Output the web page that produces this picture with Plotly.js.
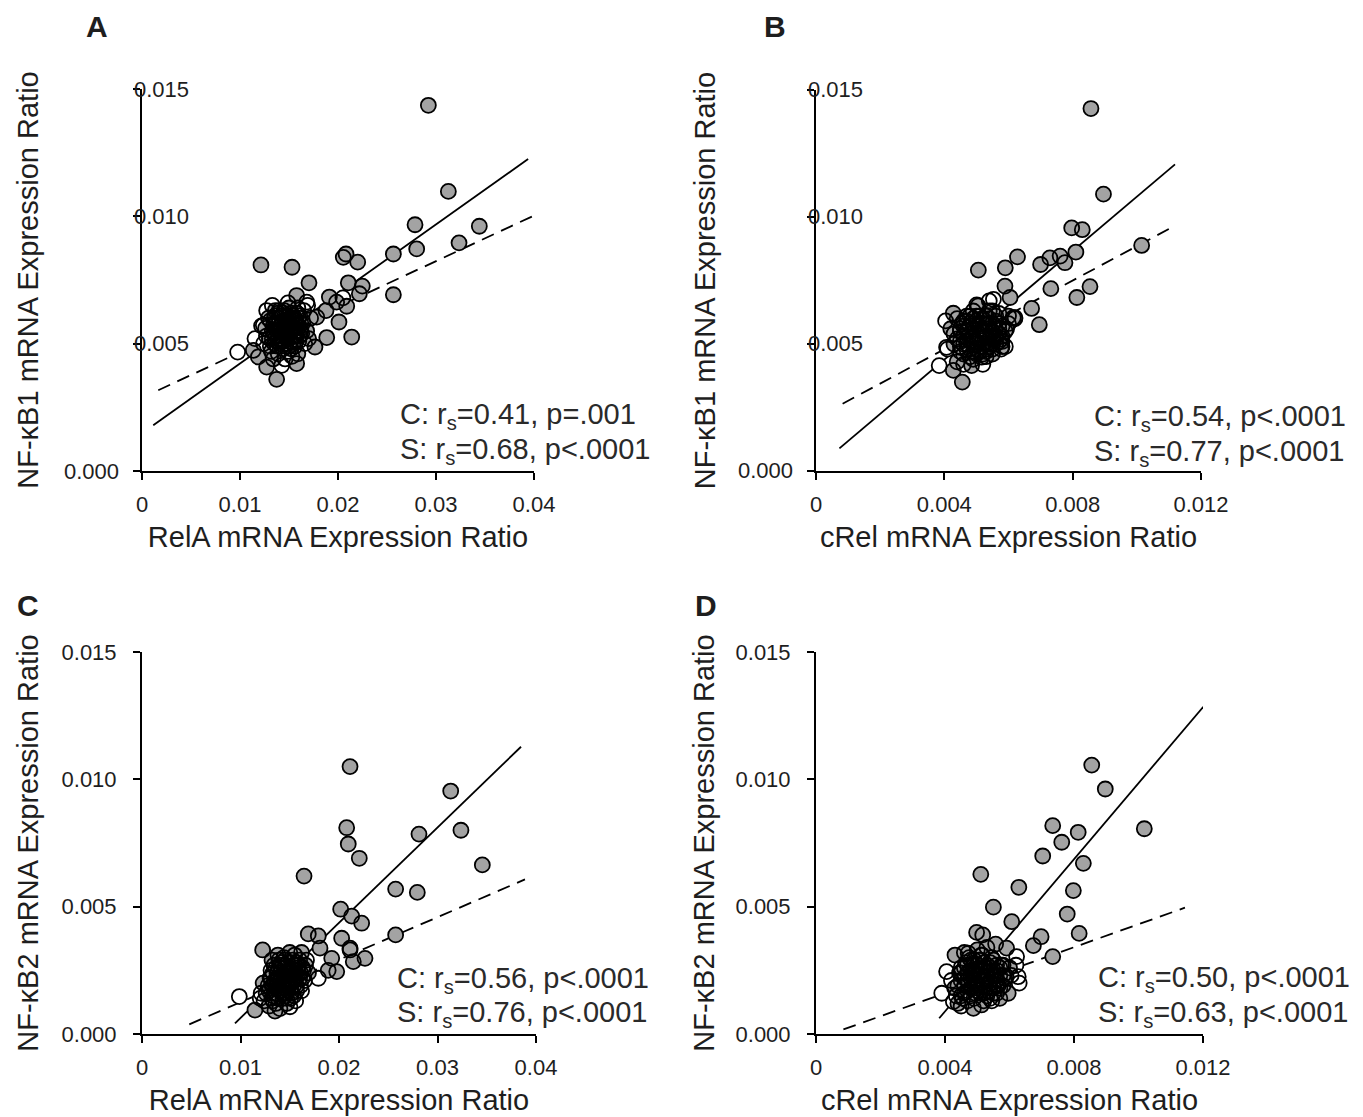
<!DOCTYPE html>
<html>
<head>
<meta charset="utf-8">
<script src="https://cdn.plot.ly/plotly-3.0.1.min.js"></script>
<style>html,body{margin:0;padding:0;background:#fff;}#chart{width:1363px;height:1117px;}</style>
</head>
<body>
<div id="chart"></div>
<script>
// ---------------- DATA ----------------
const panelLetters = ['A', 'B', 'C', 'D'];
const xTitles = ['RelA mRNA Expression Ratio', 'cRel mRNA Expression Ratio', 'RelA mRNA Expression Ratio', 'cRel mRNA Expression Ratio'];
const yTitles = ['NF-κB1 mRNA Expression Ratio', 'NF-κB1 mRNA Expression Ratio', 'NF-κB2 mRNA Expression Ratio', 'NF-κB2 mRNA Expression Ratio'];

const relaTickVals = [0, 0.01, 0.02, 0.03, 0.04];
const relaTickText = ['0', '0.01', '0.02', '0.03', '0.04'];
const crelTickVals = [0, 0.004, 0.008, 0.012];
const crelTickText = ['0', '0.004', '0.008', '0.012'];
const yTickVals = [0, 0.005, 0.010, 0.015];
const yTickText = ['0.000', '0.005', '0.010', '0.015'];

const statsC = ['C: r<sub>s</sub>=0.41, p=.001', 'C: r<sub>s</sub>=0.54, p&lt;.0001', 'C: r<sub>s</sub>=0.56, p&lt;.0001', 'C: r<sub>s</sub>=0.50, p&lt;.0001'];
const statsS = ['S: r<sub>s</sub>=0.68, p&lt;.0001', 'S: r<sub>s</sub>=0.77, p&lt;.0001', 'S: r<sub>s</sub>=0.76, p&lt;.0001', 'S: r<sub>s</sub>=0.63, p&lt;.0001'];

// regression line end points
const fitA_S = [[0.00115, 0.0018], [0.0394, 0.01225]];
const fitA_C = [[0.00166, 0.00317], [0.0400, 0.01003]];
const fitB_S = [[0.00073, 0.00089], [0.01119, 0.01207]];
const fitB_C = [[0.00083, 0.00265], [0.01106, 0.00957]];
const fitC_S = [[0.00944, 0.00042], [0.03848, 0.01128]];
const fitC_C = [[0.0048, 0.00038], [0.03888, 0.00607]];
const fitD_S = [[0.00382, 0.00062], [0.01201, 0.01285]];
const fitD_C = [[0.00085, 0.00018], [0.01144, 0.00496]];

// Panel A: RelA (x) vs NF-kB1 (y)
const panelA_S = [[0.02922,0.01436],[0.03126,0.01098],[0.02786,0.00967],[0.03442,0.00961],[0.03235,0.00896],[0.02803,0.00872],[0.02565,0.00852],[0.02082,0.00852],[0.02054,0.00839],[0.02201,0.0082],[0.01214,0.00809],[0.01531,0.008],[0.01704,0.00739],[0.02105,0.00739],[0.02248,0.00726],[0.02565,0.00692],[0.02218,0.00696],[0.01578,0.00689],[0.01912,0.00683],[0.01986,0.00663],[0.02089,0.00647],[0.01878,0.0063],[0.0201,0.00585],[0.01783,0.00604],[0.0214,0.00526],[0.01885,0.00524],[0.01765,0.00487],[0.01578,0.00422],[0.01374,0.0036],[0.01136,0.00474],[0.01187,0.00448],[0.01272,0.00408],
  [0.0130,0.0052],[0.0135,0.0058],[0.0140,0.0050],[0.0143,0.0061],[0.0146,0.0054],[0.0149,0.0059],[0.0152,0.0051],[0.0155,0.0056],[0.0158,0.0062],[0.0161,0.0053],[0.0164,0.0058],[0.0132,0.0047],[0.0138,0.0055],[0.0144,0.0048],[0.0150,0.0064],[0.0156,0.0049],[0.0168,0.0055],[0.0172,0.0060],[0.0126,0.0056],[0.0136,0.0063],[0.0141,0.0057],[0.0148,0.0052],[0.0153,0.0057],[0.0160,0.0060],[0.0129,0.0060],[0.0170,0.0052],[0.0134,0.0044],[0.0159,0.0046],
  [0.0133,0.0055],[0.0137,0.0053],[0.0140,0.0058],[0.0142,0.0051],[0.0145,0.0056],[0.0147,0.0050],[0.0149,0.0061],[0.0151,0.0056],[0.0153,0.0060],[0.0154,0.0053],[0.0157,0.0051],[0.0159,0.0057],[0.0162,0.0055],[0.0139,0.0062],[0.0144,0.0062],[0.0150,0.0055],[0.0146,0.0059],[0.0135,0.0050],[0.0156,0.0060],[0.0142,0.0055]];
const panelA_C = [[0.00976,0.00467],[0.01272,0.0063],[0.01238,0.00572],[0.01153,0.0052],[0.01681,0.00663],[0.01426,0.00415],[0.0205,0.0068],
  [0.0127,0.0053],[0.0131,0.0059],[0.0133,0.0065],[0.0137,0.0051],[0.0140,0.0060],[0.0142,0.0053],[0.0145,0.0063],[0.0147,0.0056],[0.0150,0.0049],[0.0151,0.0054],[0.0154,0.0061],[0.0157,0.0053],[0.0162,0.0056],[0.0165,0.0063],[0.0139,0.0046],[0.0146,0.0044],[0.0153,0.0045],[0.0124,0.0050],[0.0166,0.0050],[0.0143,0.0056],[0.0135,0.0054],[0.0158,0.0058],[0.0122,0.0057],[0.0169,0.0065],[0.0149,0.0066],
  [0.0131,0.0049],[0.0134,0.0057],[0.0136,0.0061],[0.0139,0.0052],[0.0141,0.0055],[0.0142,0.0049],[0.0144,0.0059],[0.0145,0.0051],[0.0147,0.0061],[0.0148,0.0054],[0.0149,0.0047],[0.0151,0.0058],[0.0152,0.0062],[0.0154,0.0050],[0.0155,0.0053],[0.0156,0.0059],[0.0158,0.0055],[0.0160,0.0051],[0.0161,0.0061],[0.0163,0.0054],[0.0137,0.0058],[0.0140,0.0063],[0.0143,0.0051],[0.0146,0.0058],[0.0150,0.0052],[0.0153,0.0055],[0.0157,0.0057],[0.0133,0.0052],[0.0138,0.0049],[0.0144,0.0054],[0.0148,0.0057],[0.0152,0.0048],[0.0159,0.0064],[0.0135,0.0060],[0.0162,0.0058]];

// Panel B: cRel (x) vs NF-kB1 (y)
const panelB_S = [[0.00857,0.01427],[0.00896,0.0109],[0.00797,0.00957],[0.0083,0.0095],[0.01015,0.00888],[0.0081,0.00862],[0.00761,0.00846],[0.00729,0.00839],[0.00776,0.0082],[0.0070,0.00813],[0.00628,0.00843],[0.0059,0.008],[0.00506,0.00791],[0.00589,0.00728],[0.00732,0.00718],[0.00854,0.00726],[0.00813,0.00683],[0.00672,0.0064],[0.00696,0.00576],[0.00605,0.00683],[0.00615,0.00604],[0.00594,0.00559],[0.00579,0.0052],[0.00428,0.00621],[0.00456,0.0035],[0.00428,0.00396],[0.00516,0.00448],[0.00485,0.00415],
  [0.0043,0.0050],[0.0045,0.0056],[0.0046,0.0046],[0.0047,0.0061],[0.0048,0.0052],[0.0049,0.0058],[0.0050,0.0048],[0.0051,0.0054],[0.0052,0.0060],[0.0053,0.0050],[0.0054,0.0056],[0.0055,0.0063],[0.0056,0.0052],[0.0057,0.0058],[0.0058,0.0049],[0.0044,0.0043],[0.0049,0.0044],[0.0053,0.0045],[0.0059,0.0055],[0.0060,0.0061],[0.0046,0.0053],[0.00505,0.0065],[0.0055,0.0046],[0.0042,0.0056],
  [0.0045,0.0051],[0.0046,0.0059],[0.0047,0.0048],[0.0048,0.0057],[0.0049,0.0053],[0.0050,0.0050],[0.0050,0.0061],[0.0051,0.0056],[0.0052,0.0052],[0.0053,0.0055],[0.0053,0.0048],[0.0054,0.0058],[0.0055,0.0053],[0.0056,0.0061],[0.0057,0.0051],[0.0057,0.0056],[0.0047,0.0055],[0.0051,0.0047],[0.0055,0.0058],[0.0049,0.0060]];
const panelB_C = [[0.00384,0.00415],[0.00404,0.00591],[0.00501,0.00654],[0.00553,0.00676],[0.00577,0.0048],[0.0062,0.00604],[0.00407,0.00487],[0.0054,0.0067],
  [0.0041,0.0048],[0.0043,0.0054],[0.0044,0.0060],[0.0045,0.0049],[0.0047,0.0055],[0.0048,0.0045],[0.0049,0.0063],[0.0050,0.0051],[0.0051,0.0057],[0.0052,0.0046],[0.0053,0.0053],[0.0054,0.0060],[0.0055,0.0050],[0.0056,0.0056],[0.0057,0.0062],[0.0058,0.0053],[0.0060,0.0058],[0.0046,0.0042],[0.0052,0.0042],[0.0059,0.0049],[0.0062,0.0060],[0.00455,0.0058],[0.00535,0.00575],
  [0.0044,0.0052],[0.0045,0.0047],[0.0046,0.0057],[0.0047,0.0050],[0.0047,0.0059],[0.0048,0.0054],[0.0048,0.0048],[0.0049,0.0056],[0.0049,0.0051],[0.0050,0.0059],[0.0050,0.0046],[0.0051,0.0052],[0.0051,0.0061],[0.0052,0.0055],[0.0052,0.0049],[0.0053,0.0058],[0.0053,0.0047],[0.0054,0.0052],[0.0054,0.0063],[0.0055,0.0055],[0.0055,0.0048],[0.0056,0.0059],[0.0056,0.0050],[0.0057,0.0054],[0.0058,0.0057],[0.0058,0.0051],[0.0046,0.0050],[0.0048,0.0061],[0.0050,0.0054],[0.0052,0.0058],[0.0054,0.0049],[0.0056,0.0053],[0.0045,0.0055],[0.0049,0.0047],[0.0053,0.0061]];

// Panel C: RelA (x) vs NF-kB2 (y)
const panelC_S = [[0.02112,0.0105],[0.03134,0.00954],[0.03238,0.008],[0.02812,0.00785],[0.02078,0.0081],[0.02094,0.00746],[0.02206,0.0069],[0.03455,0.00664],[0.01645,0.0062],[0.02575,0.00569],[0.02795,0.00556],[0.02017,0.0049],[0.02129,0.00463],[0.0223,0.00435],[0.01688,0.00393],[0.0179,0.00385],[0.02575,0.00389],[0.02027,0.00376],[0.02112,0.00337],[0.01807,0.00337],[0.01225,0.0033],[0.02264,0.00297],[0.02145,0.00284],[0.01926,0.00297],[0.01977,0.00245],[0.0189,0.0025],[0.01147,0.00094],[0.01317,0.0014],
  [0.0126,0.0016],[0.0130,0.0022],[0.0133,0.0013],[0.0136,0.0026],[0.0139,0.0018],[0.0142,0.0023],[0.0145,0.0015],[0.0148,0.0028],[0.0151,0.0020],[0.0154,0.0025],[0.0157,0.0017],[0.0160,0.0029],[0.0163,0.0022],[0.0166,0.0027],[0.0132,0.0029],[0.0140,0.0010],[0.0147,0.0012],[0.0155,0.0031],[0.0169,0.0024],[0.0123,0.0020],[0.0138,0.0031],[0.0150,0.0032],[0.0162,0.0032],[0.0135,0.0009],[0.0129,0.0011],
  [0.0130,0.0018],[0.0133,0.0024],[0.0136,0.0016],[0.0138,0.0022],[0.0140,0.0017],[0.0142,0.0026],[0.0144,0.0021],[0.0146,0.0016],[0.0148,0.0025],[0.0150,0.0021],[0.0152,0.0023],[0.0154,0.0019],[0.0156,0.0022],[0.0158,0.0025],[0.0161,0.0024],[0.0139,0.0029],[0.0145,0.0029],[0.0151,0.0014],[0.0134,0.0020],[0.0157,0.0028]];
const panelC_C = [[0.00988,0.00147],[0.01502,0.00107],[0.0179,0.00219],[0.02112,0.0033],[0.0120,0.0014],
  [0.0124,0.0013],[0.0128,0.0019],[0.0131,0.0025],[0.0134,0.0016],[0.0137,0.0021],[0.0140,0.0027],[0.0143,0.0014],[0.0146,0.0020],[0.0149,0.0024],[0.0152,0.0016],[0.0155,0.0021],[0.0158,0.0026],[0.0161,0.0019],[0.0164,0.0025],[0.0141,0.0017],[0.0148,0.0017],[0.0153,0.0029],[0.0167,0.0029],[0.0121,0.0016],[0.0144,0.0030],[0.0156,0.0013],[0.0136,0.0012],
  [0.0129,0.0017],[0.0131,0.0022],[0.0133,0.0015],[0.0134,0.0027],[0.0136,0.0019],[0.0137,0.0024],[0.0138,0.0014],[0.0140,0.0021],[0.0141,0.0028],[0.0142,0.0016],[0.0144,0.0023],[0.0145,0.0018],[0.0146,0.0027],[0.0147,0.0014],[0.0148,0.0021],[0.0150,0.0025],[0.0151,0.0018],[0.0152,0.0028],[0.0153,0.0022],[0.0154,0.0015],[0.0156,0.0024],[0.0157,0.0019],[0.0159,0.0027],[0.0160,0.0022],[0.0162,0.0017],[0.0163,0.0026],[0.0165,0.0021],[0.0135,0.0021],[0.0139,0.0026],[0.0143,0.0020],[0.0149,0.0019],[0.0155,0.0027],[0.0158,0.0023],[0.0132,0.0019],[0.0146,0.0024]];

// Panel D: cRel (x) vs NF-kB2 (y)
const panelD_S = [[0.00855,0.01056],[0.00897,0.00962],[0.00734,0.00818],[0.00813,0.00792],[0.01018,0.00806],[0.00762,0.00753],[0.00703,0.00699],[0.00829,0.0067],[0.00511,0.00627],[0.00629,0.00576],[0.00798,0.00563],[0.0055,0.00498],[0.00779,0.00471],[0.00607,0.00441],[0.00498,0.00399],[0.00517,0.00389],[0.00816,0.00395],[0.00698,0.00382],[0.00674,0.00347],[0.00734,0.00304],[0.00591,0.00337],[0.00557,0.00353],[0.00431,0.0031],[0.00472,0.00317],[0.00513,0.0031],[0.00596,0.0016],[0.00488,0.00101],[0.00513,0.00114],[0.0059,0.00225],
  [0.0043,0.0018],[0.00445,0.0024],[0.00455,0.0014],[0.00465,0.0028],[0.00475,0.0020],[0.00485,0.0025],[0.00495,0.0016],[0.00505,0.0029],[0.00515,0.0021],[0.00525,0.0026],[0.00535,0.0017],[0.00545,0.0030],[0.00555,0.0023],[0.00565,0.0019],[0.00575,0.0027],[0.0046,0.0032],[0.0050,0.0033],[0.0053,0.0034],[0.00585,0.0022],[0.0060,0.0026],[0.0044,0.0012],[0.0052,0.0013],[0.0057,0.0014],
  [0.0045,0.0021],[0.0046,0.0026],[0.0047,0.0017],[0.0048,0.0022],[0.0049,0.0027],[0.0050,0.0018],[0.0051,0.0025],[0.0052,0.0021],[0.0053,0.0027],[0.0054,0.0020],[0.0055,0.0025],[0.0056,0.0019],[0.0057,0.0023],[0.0058,0.0027],[0.0050,0.0023],[0.0047,0.0024],[0.0053,0.0018],[0.0055,0.0016],[0.0051,0.0016],[0.0048,0.0015]];
const panelD_C = [[0.0039,0.0016],[0.00405,0.00245],[0.00622,0.00304],[0.00627,0.00225],[0.00426,0.00127],[0.0063,0.0020],
  [0.0042,0.0021],[0.00435,0.0015],[0.0045,0.0026],[0.0046,0.0019],[0.0047,0.0013],[0.0048,0.0023],[0.0049,0.0029],[0.0050,0.0019],[0.0051,0.0025],[0.0052,0.0016],[0.0053,0.0022],[0.0054,0.0028],[0.0055,0.0018],[0.0056,0.0025],[0.0058,0.0019],[0.00605,0.0023],[0.00475,0.0030],[0.00515,0.0031],[0.00545,0.0013],[0.0062,0.0027],[0.0045,0.0011],
  [0.0044,0.0019],[0.0045,0.0024],[0.0046,0.0016],[0.0047,0.0021],[0.0047,0.0027],[0.0048,0.0018],[0.0048,0.0025],[0.0049,0.0014],[0.0049,0.0021],[0.0050,0.0027],[0.0050,0.0017],[0.0051,0.0023],[0.0051,0.0029],[0.0052,0.0019],[0.0052,0.0025],[0.0053,0.0015],[0.0053,0.0021],[0.0054,0.0026],[0.0054,0.0018],[0.0055,0.0023],[0.0055,0.0029],[0.0056,0.0016],[0.0056,0.0021],[0.0057,0.0026],[0.0057,0.0018],[0.0058,0.0023],[0.0046,0.0022],[0.0048,0.0029],[0.0050,0.0020],[0.0052,0.0028],[0.0054,0.0014],[0.0056,0.0027],[0.0045,0.0015],[0.0053,0.0024],[0.0049,0.0024]];

// ---------------- LAYOUT / DRAW ----------------
const W = 1363, H = 1117;
const fx = px => px / W;
const fy = py => 1 - py / H;
const FONT = 'Liberation Sans, Arial, Helvetica, sans-serif';
const TXT = '#1e1e1e';

const panels = [
  {S: panelA_S, C: panelA_C, fitS: fitA_S, fitC: fitA_C, xr: [0, 0.04], xv: relaTickVals, xt: relaTickText,
   dx: [142, 534], dy: [89, 471], letter: [97, 27], stat: [398, 416, 451], insideY: true, ts: 86},
  {S: panelB_S, C: panelB_C, fitS: fitB_S, fitC: fitB_C, xr: [0, 0.012], xv: crelTickVals, xt: crelTickText,
   dx: [816, 1201], dy: [90, 471], letter: [775, 27], stat: [1092, 418, 453], insideY: true, ts: 83},
  {S: panelC_S, C: panelC_C, fitS: fitC_S, fitC: fitC_C, xr: [0, 0.04], xv: relaTickVals, xt: relaTickText,
   dx: [142, 536], dy: [652, 1034], letter: [28, 605], stat: [395, 980, 1014], insideY: false, ts: 14},
  {S: panelD_S, C: panelD_C, fitS: fitD_S, fitC: fitD_C, xr: [0, 0.012], xv: crelTickVals, xt: crelTickText,
   dx: [816, 1203], dy: [652, 1034], letter: [706, 605], stat: [1096, 979, 1014], insideY: false, ts: 12}
];

const traces = [];
const layout = {
  width: W, height: H,
  margin: {l: 0, r: 0, t: 0, b: 0},
  paper_bgcolor: '#ffffff', plot_bgcolor: '#ffffff',
  showlegend: false,
  font: {family: FONT, size: 22, color: TXT},
  annotations: []
};

const MS = 15;
panels.forEach((p, i) => {
  const n = i === 0 ? '' : String(i + 1);
  const xa = 'x' + n, ya = 'y' + n;
  const axCommon = {
    showline: true, linecolor: '#000', linewidth: 2, mirror: false,
    ticks: 'outside', ticklen: 7, tickwidth: 2, tickcolor: '#000',
    showgrid: false, zeroline: false, fixedrange: true,
    tickfont: {family: FONT, size: 22, color: TXT}, tickmode: 'array'
  };
  layout['xaxis' + n] = Object.assign({}, axCommon, {
    domain: [fx(p.dx[0]), fx(p.dx[1])], range: p.xr, anchor: ya,
    tickvals: p.xv, ticktext: p.xt, ticklabelstandoff: 6,
    title: {text: xTitles[i], font: {family: FONT, size: 29, color: TXT}, standoff: 10}
  });
  const yAx = Object.assign({}, axCommon, {
    domain: [fy(p.dy[1]), fy(p.dy[0])], range: [0, 0.015], anchor: xa,
    tickvals: yTickVals, ticktext: yTickText,
    ticklabelstandoff: 12,
    title: {text: yTitles[i], font: {family: FONT, size: 29, color: TXT}, standoff: p.ts}
  });
  if (p.insideY) yAx.showticklabels = false; // labels drawn as annotations below
  layout['yaxis' + n] = yAx;

  // regression lines (under markers)
  traces.push({type: 'scatter', mode: 'lines', xaxis: xa, yaxis: ya, hoverinfo: 'skip',
    x: p.fitC.map(d => d[0]), y: p.fitC.map(d => d[1]),
    line: {color: '#000', width: 1.8, dash: '13px,8px'}});
  traces.push({type: 'scatter', mode: 'lines', xaxis: xa, yaxis: ya, hoverinfo: 'skip',
    x: p.fitS.map(d => d[0]), y: p.fitS.map(d => d[1]),
    line: {color: '#000', width: 1.8}});
  // fills first (controls white, schizophrenia grey) ...
  traces.push({type: 'scatter', mode: 'markers', xaxis: xa, yaxis: ya, cliponaxis: false, name: 'C',
    x: p.C.map(d => d[0]), y: p.C.map(d => d[1]),
    marker: {symbol: 'circle', size: MS, color: '#ffffff', line: {width: 0}}});
  traces.push({type: 'scatter', mode: 'markers', xaxis: xa, yaxis: ya, cliponaxis: false, name: 'S',
    x: p.S.map(d => d[0]), y: p.S.map(d => d[1]),
    marker: {symbol: 'circle', size: MS, color: '#a3a3a3', line: {width: 0}}});
  // ... then all outlines on top
  const all = p.C.concat(p.S);
  traces.push({type: 'scatter', mode: 'markers', xaxis: xa, yaxis: ya, cliponaxis: false, hoverinfo: 'skip',
    x: all.map(d => d[0]), y: all.map(d => d[1]),
    marker: {symbol: 'circle-open', size: MS, color: '#000', line: {color: '#000', width: 1.8}}});

  if (p.insideY) {
    yTickVals.forEach((v, k) => {
      const a = {xref: xa + ' domain', yref: ya, x: 0, y: v, yanchor: 'middle',
        text: yTickText[k], showarrow: false, font: {family: FONT, size: 22, color: TXT}};
      if (k === 0) { a.xanchor = 'right'; a.xshift = -21; }
      else { a.xanchor = 'left'; a.xshift = -10; }
      layout.annotations.push(a);
    });
  }
  // panel letter
  layout.annotations.push({xref: 'paper', yref: 'paper', x: fx(p.letter[0]), y: fy(p.letter[1]),
    xanchor: 'center', yanchor: 'middle', text: '<b>' + panelLetters[i] + '</b>', showarrow: false,
    font: {family: FONT, size: 30, color: TXT}});
  // stats
  layout.annotations.push({xref: 'paper', yref: 'paper', x: fx(p.stat[0]), y: fy(p.stat[1]),
    xanchor: 'left', yanchor: 'middle', text: statsC[i], showarrow: false,
    font: {family: FONT, size: 29, color: '#2a2a2a'}});
  layout.annotations.push({xref: 'paper', yref: 'paper', x: fx(p.stat[0]), y: fy(p.stat[2]),
    xanchor: 'left', yanchor: 'middle', text: statsS[i], showarrow: false,
    font: {family: FONT, size: 29, color: '#2a2a2a'}});
});

Plotly.newPlot('chart', traces, layout, {displayModeBar: false, staticPlot: true});
</script>
</body>
</html>
